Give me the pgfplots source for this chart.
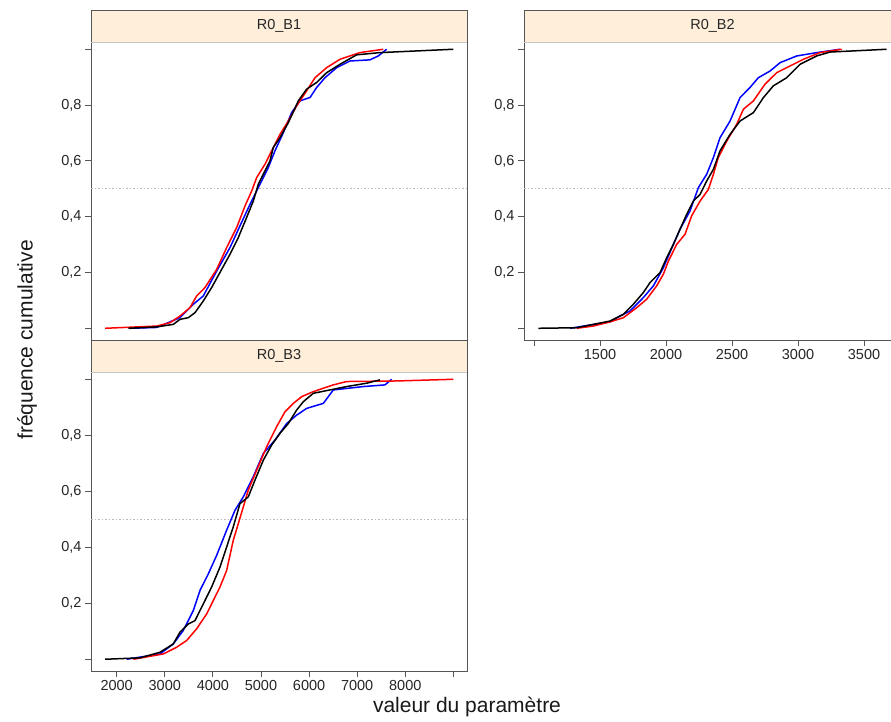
\documentclass[border=0pt]{standalone}
\usepackage{fontspec}
\setmainfont{Liberation Sans}
\usepackage{pgfplots}
\pgfplotsset{compat=1.18}
\definecolor{stripbg}{HTML}{FFEFDA}
\definecolor{axcol}{HTML}{555555}

\pgfplotsset{
  panel/.style={
    scale only axis, width=376pt, height=298pt, anchor=north west,
    ymin=-0.042, ymax=1.026,
    ytick={0,0.2,0.4,0.6,0.8,1},
    yticklabels={,{0,2},{0,4},{0,6},{0,8},},
    tick align=outside, ytick pos=left, xtick pos=bottom,
    major tick length=6pt,
    axis line style={axcol, line width=0.8pt},
    tick style={axcol, line width=0.8pt},
    ticklabel style={font=\fontsize{14.5}{16}\selectfont, text=black!85},
    /pgf/number format/assume math mode=true,
    no markers,
    every axis plot/.append style={line width=1.5pt, line join=round},
  },
  refline/.style={gray!55, dotted, line width=0.7pt},
}

\begin{document}
\begin{tikzpicture}
\path[use as bounding box, clip] (0,0) rectangle (891pt,-721pt);

% ---------- R0_B1 ----------
\begin{axis}[panel, name=b1, at={(91pt,-42pt)},
  xmin=1466, xmax=9283, xtick=\empty]
\addplot[refline] coordinates {(1466,0.5) (9283,0.5)};
\addplot[blue] coordinates {
 (2278,0) (2831,0.003) (3316,0.038) (3593,0.086) (3801,0.116) (4078,0.205)
 (4355,0.289) (4563,0.367) (4771,0.444) (4979,0.516) (5152,0.576) (5291,0.636)
 (5464,0.701) (5637,0.773) (5811,0.815) (6019,0.827) (6157,0.863) (6330,0.898)
 (6573,0.934) (6850,0.958) (7265,0.962) (7438,0.976) (7612,1.0)};
\addplot[red] coordinates {
 (1757,0) (2831,0.008) (3108,0.020) (3316,0.044) (3524,0.074) (3663,0.116)
 (3836,0.146) (4078,0.211) (4286,0.289) (4494,0.361) (4667,0.438) (4806,0.492)
 (4910,0.540) (5083,0.588) (5222,0.636) (5395,0.695) (5568,0.743) (5741,0.797)
 (5949,0.851) (6123,0.898) (6365,0.934) (6642,0.964) (7057,0.988) (7542,1.0)};
\addplot[black] coordinates {
 (2242,0) (2831,0.005) (3177,0.014) (3316,0.032) (3489,0.038) (3628,0.056)
 (3801,0.098) (3974,0.146) (4147,0.200) (4355,0.265) (4528,0.325) (4701,0.397)
 (4840,0.456) (4944,0.516) (5048,0.552) (5187,0.600) (5256,0.648) (5395,0.683)
 (5568,0.737) (5776,0.815) (5949,0.857) (6157,0.881) (6365,0.916) (6642,0.946)
 (6988,0.980) (7473,0.988) (8998,1.0)};
\end{axis}

% ---------- R0_B2 ----------
\begin{axis}[panel, name=b2, at={(524pt,-42pt)}, width=377pt,
  xmin=924, xmax=3780,
  xtick={1000,1500,2000,2500,3000,3500},
  xticklabels={,1500,2000,2500,3000,3500}]
\addplot[refline] coordinates {(924,0.5) (3780,0.5)};
\addplot[blue] coordinates {
 (1273,0) (1576,0.023) (1651,0.044) (1727,0.062) (1828,0.110) (1904,0.152)
 (1980,0.217) (2056,0.301) (2106,0.355) (2182,0.421) (2245,0.504) (2308,0.552)
 (2359,0.612) (2409,0.683) (2485,0.743) (2561,0.827) (2636,0.863) (2699,0.898)
 (2788,0.922) (2864,0.952) (2990,0.976) (3141,0.988) (3318,1.0)};
\addplot[red] coordinates {
 (1323,0) (1449,0.008) (1576,0.023) (1677,0.038) (1778,0.074) (1853,0.104)
 (1929,0.152) (1980,0.194) (2018,0.241) (2081,0.301) (2144,0.337) (2194,0.403)
 (2258,0.456) (2321,0.498) (2359,0.552) (2396,0.612) (2460,0.671) (2535,0.731)
 (2586,0.785) (2662,0.815) (2750,0.875) (2838,0.916) (2939,0.940) (3040,0.964)
 (3166,0.988) (3331,1.0)};
\addplot[black] coordinates {
 (1033,0) (1323,0.002) (1449,0.014) (1576,0.026) (1677,0.050) (1752,0.086)
 (1828,0.128) (1879,0.164) (1955,0.200) (2005,0.253) (2056,0.301) (2106,0.355)
 (2157,0.409) (2207,0.456) (2258,0.480) (2308,0.528) (2359,0.570) (2409,0.636)
 (2485,0.695) (2561,0.743) (2662,0.773) (2738,0.827) (2813,0.869) (2914,0.898)
 (3015,0.946) (3141,0.976) (3242,0.990) (3671,1.0)};
\end{axis}

% ---------- R0_B3 ----------
\begin{axis}[panel, name=b3, at={(91pt,-372pt)}, height=299pt,
  xmin=1466, xmax=9283,
  xtick={2000,3000,4000,5000,6000,7000,8000,9000},
  xticklabels={2000,3000,4000,5000,6000,7000,8000,}]
\addplot[refline] coordinates {(1466,0.5) (9283,0.5)};
\addplot[blue] coordinates {
 (2208,0) (2901,0.019) (3178,0.055) (3385,0.103) (3593,0.174) (3732,0.246)
 (3905,0.305) (4078,0.371) (4286,0.461) (4459,0.532) (4632,0.580) (4840,0.652)
 (5048,0.735) (5291,0.783) (5534,0.842) (5741,0.872) (5949,0.896) (6296,0.914)
 (6400,0.938) (6504,0.962) (7127,0.974) (7578,0.980) (7716,1.0)};
\addplot[red] coordinates {
 (2347,0) (2970,0.019) (3247,0.043) (3455,0.067) (3663,0.109) (3871,0.162)
 (4009,0.210) (4147,0.258) (4286,0.317) (4424,0.425) (4528,0.484) (4632,0.544)
 (4736,0.604) (4910,0.675) (5118,0.759) (5326,0.831) (5499,0.884) (5672,0.914)
 (5846,0.938) (6088,0.956) (6504,0.980) (6781,0.992) (7820,0.994) (8999,1.0)};
\addplot[black] coordinates {
 (1757,0) (2486,0.005) (2901,0.025) (3178,0.055) (3316,0.097) (3489,0.126)
 (3628,0.138) (3801,0.198) (3974,0.258) (4147,0.329) (4286,0.401) (4424,0.473)
 (4563,0.556) (4736,0.580) (4875,0.640) (5048,0.711) (5222,0.765) (5395,0.807)
 (5568,0.842) (5741,0.890) (5880,0.920) (6088,0.950) (6434,0.962) (6781,0.974)
 (7196,0.986) (7473,0.998)};
\end{axis}

% strips
\foreach \ax/\lab in {b1/R0\_B1, b2/R0\_B2, b3/R0\_B3}{
  \draw[axcol, fill=stripbg, line width=0.8pt] (\ax.north west) rectangle ([yshift=32pt]\ax.north east);
  \draw[gray!45, line width=0.8pt] ([xshift=0.4pt]\ax.north west) -- ([xshift=-0.4pt]\ax.north east);
  \node[font=\fontsize{14.5}{16}\selectfont, text=black!85] at ([yshift=16pt]\ax.north) {\lab};
}

% axis titles
\node[rotate=90, font=\fontsize{21}{24}\selectfont, text=black!90] at (27pt,-340pt) {fréquence cumulative};
\node[font=\fontsize{21}{24}\selectfont, text=black!90] at (467pt,-707pt) {valeur du paramètre};
\end{tikzpicture}
\end{document}
